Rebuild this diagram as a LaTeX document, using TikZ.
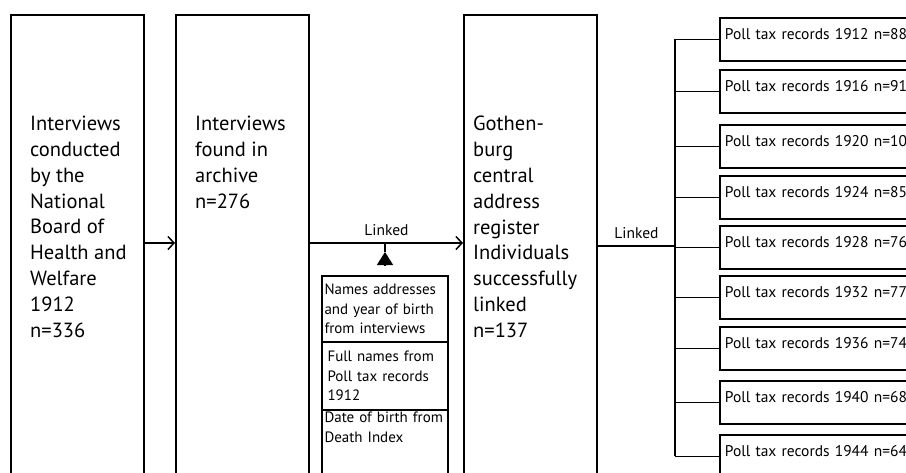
\documentclass[tikz,border=0pt]{standalone}
\usepackage{fontspec}
\setmainfont{PT Sans}
\usetikzlibrary{positioning,arrows.meta}

\begin{document}
\begin{tikzpicture}[x=1pt, y=-1pt,
  stage/.style={draw, line width=1.8pt, anchor=north west, minimum width=133pt, minimum height=480pt, inner sep=0pt},
  stagetext/.style={anchor=north west, align=left, inner sep=0pt, font=\fontsize{20.5}{25.8}\selectfont},
  src/.style={draw, line width=1.5pt, outer sep=0pt, anchor=north west, text width=121pt, align=left, inner xsep=2.5pt, inner ysep=2pt, font=\fontsize{15}{19.5}\selectfont},
  poll/.style={draw, line width=1.8pt, anchor=north west, text width=240pt, align=left, inner xsep=5pt, inner ysep=11pt, text height=11pt, text depth=10pt, font=\fontsize{15.5}{18}\selectfont},
  arr/.style={-{Straight Barb[length=6pt,width=13pt]}, line width=1.5pt},
  link/.style={line width=1.5pt},
  lab/.style={font=\fontsize{15.5}{17}\selectfont, inner sep=0pt}
]
\clip (0,0) rectangle (906,472);
\node[stage] (interviews) at (10,14) {};
\node[stage] (archive) at (175,14) {};
\node[stage] (register) at (463,14) {};
\node[stagetext] (tinterviews) at (30,116) {Interviews\\conducted\\by the\\National\\Board of\\Health and\\Welfare\\1912\\n=336};
\node[stagetext] (tarchive) at (195,116) {Interviews\\found in\\archive\\n=276};
\node[stagetext] (tregister) at (473,116) {Gothen-\\burg\\central\\address\\register\\Individuals\\successfully\\linked\\n=137};

\node[src, minimum height=66pt] (names) at (322,276) {Names addresses\\and year of birth\\from interviews};
\node[src, minimum height=68pt, below=0pt of names] (fullnames) {\hspace*{3pt}Full names from\\\hspace*{3pt}Poll tax records\\\hspace*{3pt}1912};
\node[src, below=0pt of fullnames] (deathindex) {Date of birth from\\Death Index\\\rule{0pt}{60pt}};

\coordinate (row) at (0,243);
\coordinate (trunk) at (0,246);
\coordinate (bus) at (675,0);
\draw[arr] (interviews.east |- row) -- (archive.west |- row);
\draw[arr] (archive.east |- row) -- node[lab, above=7pt]{Linked} (register.west |- row);
\draw[link, -{Triangle[length=13pt,width=16pt]}] ([yshift=10pt]names.north) -- ([yshift=24pt]names.north);
\draw[link] ([yshift=24pt]names.north) -- (names.north |- row);

\node[poll] (p1912) at (719,17) {Poll tax records 1912 n=88};
\node[poll] (p1916) at (719,69) {Poll tax records 1916 n=91};
\node[poll] (p1920) at (719,124) {Poll tax records 1920 n=105};
\node[poll] (p1924) at (719,175) {Poll tax records 1924 n=85};
\node[poll] (p1928) at (719,225) {Poll tax records 1928 n=76};
\node[poll] (p1932) at (719,275) {Poll tax records 1932 n=77};
\node[poll] (p1936) at (719,326) {Poll tax records 1936 n=74};
\node[poll] (p1940) at (719,380) {Poll tax records 1940 n=68};
\node[poll] (p1944) at (719,434) {Poll tax records 1944 n=64};

\draw[link] (register.east |- trunk) -- node[lab, above=7pt]{Linked} (bus |- trunk);
\draw[link] (bus |- p1912.west) -- (bus |- p1944.west);
\draw[link] (bus |- p1912.west) -- (p1912.west);
\draw[link] (bus |- p1916.west) -- (p1916.west);
\draw[link] (bus |- p1920.west) -- (p1920.west);
\draw[link] (bus |- p1924.west) -- (p1924.west);
\draw[link] (bus |- p1928.west) -- (p1928.west);
\draw[link] (bus |- p1932.west) -- (p1932.west);
\draw[link] (bus |- p1936.west) -- (p1936.west);
\draw[link] (bus |- p1940.west) -- (p1940.west);
\draw[link] (bus |- p1944.west) -- (p1944.west);
\end{tikzpicture}
\end{document}
